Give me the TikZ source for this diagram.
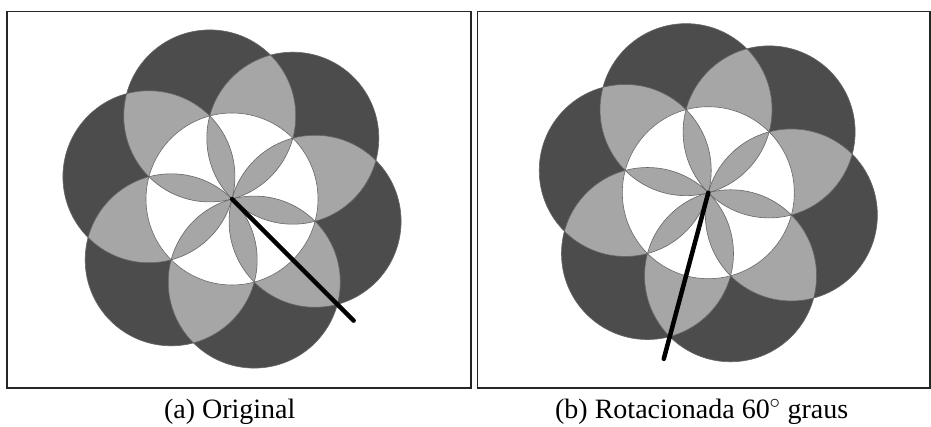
\documentclass[tikz,border=0pt]{standalone}
\usepackage{fontspec}
\setmainfont{Liberation Serif}
\begin{document}
\begin{tikzpicture}[x=1pt,y=-1pt,
  darkfill/.style={fill=black!70},
  lightfill/.style={fill=black!35},
  edgeline/.style={draw=black!60, line width=0.6pt},
  framebox/.style={draw=black!85, line width=1.1pt},
  handline/.style={line width=4.5pt, line cap=round, draw=black},
  captext/.style={font=\fontsize{28}{32}\selectfont, anchor=base, inner sep=0pt}]
\useasboundingbox (0,0) rectangle (931,426);
\fill[white] (0,0) rectangle (931,426);
\newcommand\drawflower[4]{%
 \begin{scope}[shift={(#1)}, yscale=-1]
  \foreach \a in {45,105,...,345} \fill[darkfill] (\a:86) circle (86);
  \foreach \a in {45,105,...,345} {\begin{scope}\clip (\a:86) circle (86); \fill[lightfill] (\a+60:86) circle (86);\end{scope}}
  \fill[white] (0,0) circle (86);
  \foreach \a in {45,105,...,345} {\begin{scope}\clip (\a:86) circle (86); \fill[lightfill] (\a+120:86) circle (86);\end{scope}}
  \foreach \a in {45,105,...,345} \draw[edgeline] (\a:86) circle (86);
  \draw[edgeline] (0,0) circle (86);
  \coordinate (#3) at (0,0);
  \coordinate (#4) at (#2:172);
  \draw[handline] (#3) -- (#4);
 \end{scope}}
\draw[framebox] (7,11.7) rectangle (471,388);
\draw[framebox] (477.5,11.7) rectangle (930,388);
\drawflower{232,199}{-45}{ca}{ea}
\drawflower{708.3,192.7}{255}{cb}{eb}
\node[captext] (capa) at (229.7,418) {(a) Original};
\node[captext] (capb) at (701.7,418) {(b) Rotacionada 60$^\circ$ graus};
\end{tikzpicture}
\end{document}
